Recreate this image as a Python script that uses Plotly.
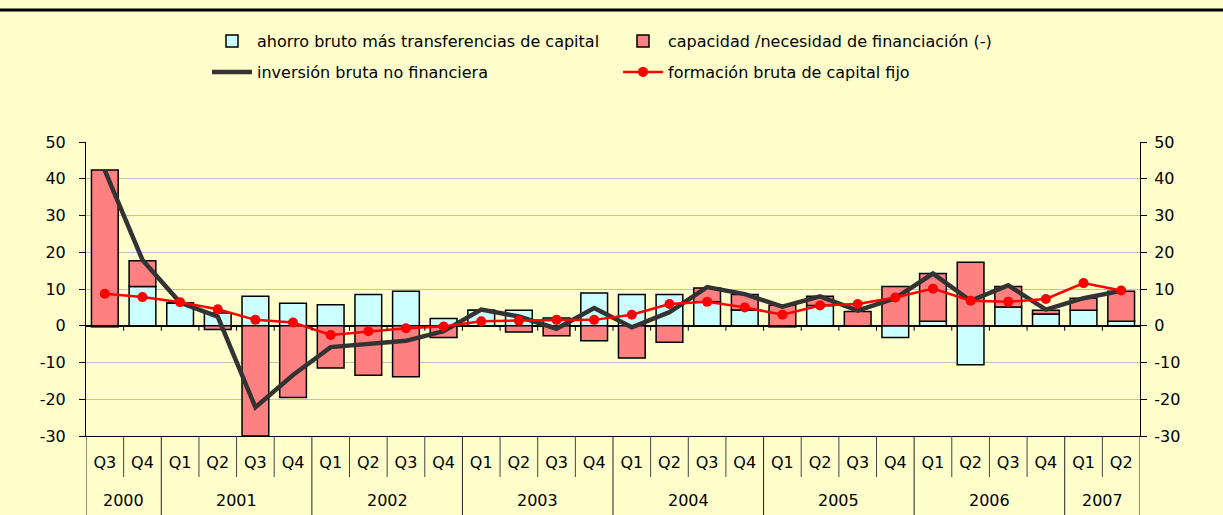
import plotly.graph_objects as go

# ---------------- data ----------------
years = ["2000", "2000",
         "2001", "2001", "2001", "2001",
         "2002", "2002", "2002", "2002",
         "2003", "2003", "2003", "2003",
         "2004", "2004", "2004", "2004",
         "2005", "2005", "2005", "2005",
         "2006", "2006", "2006", "2006",
         "2007", "2007"]
quarters = ["Q3", "Q4",
            "Q1", "Q2", "Q3", "Q4",
            "Q1", "Q2", "Q3", "Q4",
            "Q1", "Q2", "Q3", "Q4",
            "Q1", "Q2", "Q3", "Q4",
            "Q1", "Q2", "Q3", "Q4",
            "Q1", "Q2", "Q3", "Q4",
            "Q1", "Q2"]

ahorro = [-0.3, 10.7, 6.2, 3.5, 8.0, 6.1, 5.7, 8.5, 9.4, 2.0,
          4.2, 4.2, 2.1, 8.9, 8.5, 8.5, 6.5, 4.3, -0.3, 5.5,
          0.0, -3.2, 1.2, -10.6, 5.1, 3.2, 4.2, 1.2]
capacidad = [42.4, 7.0, 0.0, -1.0, -30.0, -19.5, -11.5, -13.5, -13.9, -3.2,
             0.0, -1.7, -2.7, -4.1, -8.8, -4.5, 3.8, 4.2, 5.6, 2.5,
             3.9, 10.7, 13.0, 17.3, 5.6, 1.0, 3.3, 8.2]
inversion = [42.3, 17.9, 6.3, 2.5, -22.2, -13.4, -5.8, -5.0, -4.1, -1.5,
             4.4, 2.5, -0.8, 4.8, -0.4, 3.7, 10.5, 8.6, 5.2, 8.0,
             4.1, 7.5, 14.2, 6.8, 11.0, 4.4, 7.5, 9.5]
fbcf = [8.7, 7.8, 6.4, 4.5, 1.6, 0.9, -2.5, -1.5, -0.7, -0.2,
        1.2, 1.4, 1.6, 1.6, 3.0, 5.9, 6.5, 5.0, 3.0, 5.5,
        5.9, 7.7, 10.1, 6.8, 6.5, 7.3, 11.6, 9.6]

y_ticks = [-30, -20, -10, 0, 10, 20, 30, 40, 50]
y_tick_labels = ["-30", "-20", "-10", "0", "10", "20", "30", "40", "50"]

names = ["ahorro bruto más transferencias de capital",
         "capacidad /necesidad de financiación (-)",
         "inversión bruta no financiera",
         "formación bruta de capital fijo"]

# ---------------- geometry ----------------
W, H = 1223, 515
ML, MR, MT, MB = 86, 83, 142, 79
PW = W - ML - MR
PH = H - MT - MB


def pxx(px):
    return (px - ML) / PW


def pxy(py):
    return (H - MB - py) / PH


BG = "#FFFFCC"
FONT = "DejaVu Sans, Liberation Sans, Arial, sans-serif"
FS = 16

periods = [f"{y} {q}" for y, q in zip(years, quarters)]
n = len(periods)

fig = go.Figure()
fig.add_trace(go.Bar(x=periods, y=ahorro, name=names[0],
                     marker=dict(color="#CCFFFF", line=dict(color="black", width=1.5)),
                     width=0.71, legend="legend"))
fig.add_trace(go.Bar(x=periods, y=capacidad, name=names[1],
                     marker=dict(color="#FF8080", line=dict(color="black", width=1.5)),
                     width=0.71, legend="legend2"))
fig.add_trace(go.Scatter(x=periods, y=inversion, name=names[2], mode="lines",
                         line=dict(color="#333333", width=4.5), legend="legend3"))
fig.add_trace(go.Scatter(x=periods, y=fbcf, name=names[3], mode="lines+markers",
                         line=dict(color="#FF0000", width=2.5),
                         marker=dict(color="#FF0000", size=10), legend="legend4",
                         yaxis="y2"))

shapes = []
# separators under the category axis
for i in range(n - 1):
    same_year = years[i] == years[i + 1]
    shapes.append(dict(type="line", xref="x", yref="paper",
                       x0=i + 0.5, x1=i + 0.5, y0=0,
                       y1=pxy(477) if same_year else pxy(515),
                       line=dict(color="#444444" if same_year else "#222222", width=1)))
for edge in (-0.5, n - 0.5):
    shapes.append(dict(type="line", xref="x", yref="paper",
                       x0=edge, x1=edge, y0=0, y1=pxy(515),
                       line=dict(color="#222222", width=1)))
# small ticks on the zero line
for i in range(n - 1):
    shapes.append(dict(type="line", xref="x", yref="y", ysizemode="pixel", yanchor=0,
                       x0=i + 0.5, x1=i + 0.5, y0=0, y1=-5,
                       line=dict(color="black", width=1)))
# top border line
shapes.append(dict(type="line", xref="paper", yref="paper",
                   x0=pxx(0), x1=pxx(W), y0=pxy(10), y1=pxy(10),
                   line=dict(color="black", width=3)))

annotations = []
seen = []
for y in years:
    if y not in seen:
        seen.append(y)
for y in seen:
    idx = [i for i, v in enumerate(years) if v == y]
    annotations.append(dict(x=sum(idx) / len(idx), y=pxy(500), xref="x", yref="paper",
                            text=y, showarrow=False, yanchor="middle",
                            font=dict(family=FONT, size=FS, color="black")))

leg_font = dict(family=FONT, size=FS, color="black")


def leg(xpx, ypx):
    return dict(x=pxx(xpx), y=pxy(ypx), xanchor="left", yanchor="middle",
                bgcolor="rgba(0,0,0,0)", font=leg_font, itemwidth=40,
                orientation="h")


tickfont = dict(family=FONT, size=FS, color="black")

fig.update_layout(
    width=W, height=H,
    margin=dict(l=ML, r=MR, t=MT, b=MB, pad=0),
    paper_bgcolor=BG, plot_bgcolor=BG,
    barmode="relative",
    font=dict(family=FONT, size=FS, color="black"),
    showlegend=True,
    legend=leg(207, 41), legend2=leg(618, 41),
    legend3=leg(207, 72), legend4=leg(618, 72),
    xaxis=dict(type="category", categoryorder="array", categoryarray=periods,
               range=[-0.5, n - 0.5], tickmode="array", tickvals=periods,
               ticktext=quarters, ticks="", showgrid=False, showline=True,
               linecolor="black", linewidth=1, ticklabelstandoff=12,
               tickfont=tickfont),
    yaxis=dict(range=[-30, 50], tickmode="array", tickvals=y_ticks,
               ticktext=y_tick_labels, showgrid=True,
               gridcolor="#C0C0C0", gridwidth=1, zeroline=True,
               zerolinecolor="black", zerolinewidth=1.5,
               showline=True, linecolor="black", linewidth=1,
               ticks="outside", ticklen=6, tickcolor="black",
               ticklabelstandoff=10, tickfont=tickfont),
    yaxis2=dict(range=[-30, 50], tickmode="array", tickvals=y_ticks,
                ticktext=y_tick_labels, overlaying="y", side="right",
                showgrid=False, zeroline=False, showline=True, linecolor="black",
                linewidth=1, ticks="outside", ticklen=6, tickcolor="black",
                ticklabelstandoff=4, tickfont=tickfont),
    shapes=shapes, annotations=annotations,
)

fig.write_html("out.html")
